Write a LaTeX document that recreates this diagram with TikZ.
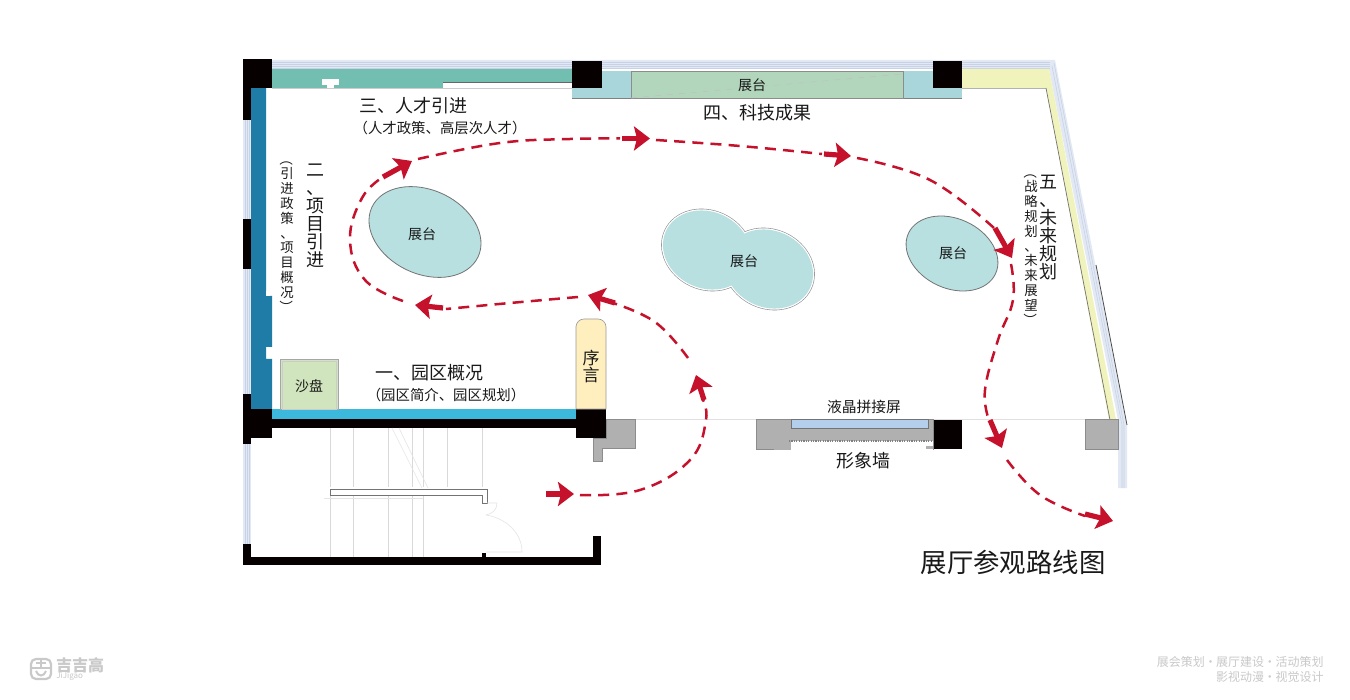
\documentclass[tikz,border=0pt]{standalone}
\usepackage{fontspec}
\setmainfont{Noto Sans CJK SC}
\usetikzlibrary{arrows.meta}
\definecolor{wallblack}{HTML}{060001}
\definecolor{tealwall}{HTML}{72BFB1}
\definecolor{bluewall}{HTML}{1F7CA6}
\definecolor{cyanwall}{HTML}{3BB8DC}
\definecolor{paleblue}{HTML}{A9D6DB}
\definecolor{palegreen}{HTML}{B2D6BC}
\definecolor{paleyellow}{HTML}{F1F3BD}
\definecolor{pool}{HTML}{B8E0E0}
\definecolor{greywall}{HTML}{B0B0B0}
\definecolor{routered}{HTML}{C5112B}
\definecolor{glass}{HTML}{E2E9F4}
\definecolor{glassline}{HTML}{C8D2E5}
\definecolor{screenblue}{HTML}{B3CFEC}
\definecolor{sand}{HTML}{D0E4BD}
\definecolor{preface}{HTML}{FFEFBE}
\definecolor{footgrey}{HTML}{C9C9C9}
\newcommand{\lp}{\rotatebox[origin=c]{-90}{（}}
\newcommand{\rp}{\rotatebox[origin=c]{-90}{）}}
\newcommand{\fsep}{\kern-1.5pt\ ·\ \kern-1.5pt}
\tikzset{
  x=0.5pt,y=-0.5pt,
  post/.style={fill=wallblack,draw=none},
  glasspane/.style={fill=glass,draw=none},
  glassrule/.style={draw=glassline,line width=0.3pt},
  stairline/.style={draw=black!15,line width=0.3pt},
  faintline/.style={draw=black!10,line width=0.3pt},
  pillar/.style={fill=greywall,draw=black!45,line width=0.25pt},
  route/.style={draw=routered,line width=1.25pt,dash pattern=on 5.5pt off 3.6pt},
  routehead/.style={draw=routered,line width=2.6pt,-{Stealth[length=8pt,width=12pt,inset=1.5pt,fill=routered]}},
  poolshape/.style={fill=pool,draw=black!55,line width=0.4pt},
  big/.style={font=\fontsize{9}{9}\selectfont,inner sep=0pt,text=black!90},
  small/.style={font=\fontsize{7.2}{7.2}\selectfont,inner sep=0pt,text=black!90},
  vsmall/.style={font=\fontsize{6.7}{7.4}\selectfont,inner sep=0pt,text=black!90},
  tag/.style={font=\fontsize{7}{7}\selectfont,inner sep=0pt,text=black!90},
  foot/.style={font=\fontsize{6}{6}\selectfont,inner sep=0pt,text=footgrey},
}
\begin{document}
\begin{tikzpicture}
\useasboundingbox (0,0) rectangle (1350,700);
\fill[white] (0,0) rectangle (1350,700);

% glazing, outer strips
\fill[glasspane] (272,60) -- (1055,60) -- (1127,425) -- (1127,488) -- (1118,488) -- (1118,420) -- (1049,69) -- (272,69) -- cycle;
\foreach \d in {62,64,66,68} \draw[glassrule] (272,\d) -- (1050,\d);
\draw[glassrule] (1052,66) -- (1122,425) -- (1122,488);
\draw[glassrule] (1054,63) -- (1124,425) -- (1124,488);
\fill[glasspane] (243,115) rectangle (251,400);
\fill[glasspane] (243,440) rectangle (251,548);
\foreach \d in {245,247,249} {
  \draw[glassrule] (\d,115) -- (\d,400);
  \draw[glassrule] (\d,440) -- (\d,548);
}
\draw[black!70,line width=0.4pt] (1096,265) -- (1127,425);

% teal top wall and its white recesses
\fill[tealwall] (272,69) rectangle (572,88);
\fill[white] (322,79) rectangle (339,85);
\fill[white] (327,85) rectangle (334,88);
\fill[white] (443,82) rectangle (572,88);
\draw[black!60,line width=0.3pt] (443,82) -- (572,82);
\draw[black!20,line width=0.3pt] (272,88.5) -- (572,88.5);

% exhibit counter on top wall
\fill[paleblue] (572,71) rectangle (962,98);
\draw[black!50,line width=0.35pt] (572,98) -- (962,98);
\fill[palegreen,draw=black!45,line width=0.3pt] (631,71) rectangle (903,98);
\draw[black!25,line width=0.25pt,dashed] (631,98) -- (903,74);

% yellow wall
\fill[paleyellow] (962,69) -- (1049,69) -- (1117,425) -- (1110,425) -- (1046,88) -- (962,88) -- cycle;
\draw[black!30,line width=0.35pt] (962,88) -- (1046,88);
\draw[black!55,line width=0.35pt] (1046,88) -- (1110,420);

% blue left wall
\fill[bluewall] (251,88) -- (266,88) -- (266,296) -- (272,296) -- (272,347) -- (266,347) -- (266,359) -- (272,359) -- (272,409) -- (251,409) -- cycle;
\fill[white] (266,291) rectangle (270,296);

% black structure
\fill[post] (243,59) rectangle (272,88);
\fill[post] (243,88) rectangle (251,120);
\fill[post] (243,219) rectangle (251,269);
\fill[post] (243,394) rectangle (251,444);
\fill[post] (243,409) rectangle (272,438);
\fill[cyanwall] (272,408.5) rectangle (576,419);
\fill[post] (272,419) rectangle (576,428);
\fill[post] (576,409) rectangle (606,438);
\fill[post] (572,61) rectangle (602,88);
\fill[post] (933,61) rectangle (962,88);
\fill[post] (933,419) rectangle (962,449);
\fill[post] (243,544) rectangle (251,565);
\fill[post] (243,557) rectangle (601,565);
\fill[post] (593,536) rectangle (601,565);
\fill[post] (482,553) rectangle (486,557);

% stairs room
\foreach \d in {330,353,388,412,423,447,482} \draw[stairline] (\d,428) -- (\d,487);
\foreach \d in {330,353,388,412,423} \draw[stairline] (\d,495) -- (\d,557);
\draw[faintline] (392,428) -- (422,488);
\draw[faintline] (399,428) -- (428,488);
\draw[black!55,line width=0.45pt] (330,489) -- (487,489) -- (487,503) -- (482,503) -- (482,495) -- (330,495) -- cycle;
\draw[faintline] (324,498) -- (423,498);
\draw[faintline] (487,503) -- (497,503) .. controls (497,510) and (492,514) .. (486,515);
\draw[faintline] (486,515) .. controls (505,518) and (522,532) .. (522,552) -- (486,552);

% pillars and front wall
\draw[black!12,line width=0.3pt] (606,419) -- (1118,419);
\fill[pillar] (606,419) -- (635,419) -- (635,448) -- (602,448) -- (602,461) -- (593,461) -- (593,438) -- (606,438) -- cycle;
\fill[pillar] (756,419) -- (933,419) -- (933,449) -- (791,449) -- (756,449) -- cycle;
\fill[white] (791,441) rectangle (933,450);
\draw[black!50,line width=0.6pt,dash pattern=on 0.6pt off 0.6pt] (789,441) -- (933,441);
\fill[screenblue,draw=black!55,line width=0.3pt] (791,419) rectangle (928,428);
\fill[greywall] (926,446) rectangle (933,449);
\fill[pillar] (1085,419) rectangle (1118,449);

% sand table and preface
\fill[sand,draw=black!35,line width=0.5pt] (280,359.5) rectangle (338,409);
\draw[black!20,line width=0.3pt] (282,361) rectangle (336,409);
\fill[preface,draw=black!40,line width=0.3pt] (576,409) -- (576,326) [rounded corners=4pt] -- (576,319) -- (606,319) [sharp corners] -- (606,409) -- cycle;

% display pools
\fill[poolshape,shift={(425,232)},rotate=-25] (0,0) ellipse (58.6 and 42);
\fill[poolshape,shift={(952,253.5)},rotate=-25] (0,0) ellipse (48 and 34.8);
\foreach \cx/\cy in {707/250,769/269} \fill[black!45,shift={(\cx,\cy)},rotate=-25] (0,0) ellipse (47 and 40);
\foreach \cx/\cy in {707/250,769/269} \fill[white,shift={(\cx,\cy)},rotate=-25] (0,0) ellipse (46.4 and 39.4);
\foreach \cx/\cy in {707/250,769/269} \fill[pool,shift={(\cx,\cy)},rotate=-25] (0,0) ellipse (45.2 and 38.2);

% visitor route
\coordinate (r1a) at (546,494);   \coordinate (r1b) at (574,494);
\coordinate (r2a) at (704,400);   \coordinate (r2b) at (696,375);
\coordinate (r3a) at (615,303);   \coordinate (r3b) at (588,295);
\coordinate (r4a) at (443,308);   \coordinate (r4b) at (415,305);
\coordinate (r5a) at (383,177);   \coordinate (r5b) at (412,161);
\coordinate (r6a) at (622,138.5); \coordinate (r6b) at (650,138.5);
\coordinate (r7a) at (824,154);   \coordinate (r7b) at (851,156);
\coordinate (r8a) at (995,228);   \coordinate (r8b) at (1012,258);
\coordinate (r9a) at (990,420);   \coordinate (r9b) at (1002,448);
\coordinate (r10a) at (1085,514); \coordinate (r10b) at (1113,521);
\draw[route] plot[smooth,tension=0.7] coordinates {(580,495) (640,490) (690,460) (706,420) (702,398)};
\draw[route] plot[smooth,tension=0.7] coordinates {(688,358) (655,322) (610,302)};
\draw[route] plot[smooth,tension=0.7] coordinates {(578,297) (510,303) (446,309)};
\draw[route] plot[smooth,tension=0.7] coordinates {(403,301) (365,280) (350,240) (362,198) (383,177)};
\draw[route] plot[smooth,tension=0.7] coordinates {(418,159) (500,143) (570,139) (620,138.5)};
\draw[route] plot[smooth,tension=0.7] coordinates {(656,140) (740,146) (822,154)};
\draw[route] plot[smooth,tension=0.7] coordinates {(857,158) (930,180) (994,228)};
\draw[route] plot[smooth,tension=0.7] coordinates {(1011,264) (1013,300) (998,340) (985,390) (989,420)};
\draw[route] plot[smooth,tension=0.7] coordinates {(1007,460) (1040,495) (1085,516)};
\foreach \n in {1,...,10} \draw[routehead] (r\n a) -- (r\n b);

% labels
\node[big] (t3) at (413,106) {三、人才引进};
\node[small] (t3s) at (440,128) {（人才政策、高层次人才）};
\node[big] (t4) at (757,113) {四、科技成果};
\node[big] (t1) at (429,373) {一、园区概况};
\node[small] (t1s) at (446,395) {（园区简介、园区规划）};
\node[big,align=center] (t2) at (315,216) {二\\、\\项\\目\\引\\进};
\node[vsmall,align=center] (t2s) at (287,233) {\lp\\引\\进\\政\\策\\、\\项\\目\\概\\况\\\rp};
\node[big,align=center] (t5) at (1048,228) {五\\、\\未\\来\\规\\划};
\node[vsmall,align=center] (t5s) at (1031,246) {\lp\\战\\略\\规\\划\\、\\未\\来\\展\\望\\\rp};
\node[tag] (sp) at (309,386) {沙盘};
\node[big,font=\fontsize{8.5}{8.5}\selectfont,align=center] (xy) at (591,366) {序\\言};
\node[tag] (z1) at (422,234) {展台};
\node[tag] (z2) at (752,85) {展台};
\node[tag] (z3) at (744,261) {展台};
\node[tag] (z4) at (953,253) {展台};
\node[tag,font=\fontsize{7.4}{7.4}\selectfont] (lcd) at (864,407) {液晶拼接屏};
\node[big] (xxq) at (863,461) {形象墙};
\node[big,font=\fontsize{13.2}{13.2}\selectfont] (title) at (1013,562) {展厅参观路线图};

% footer
\node[foot,anchor=east] (f1) at (1324,662) {展会策划\fsep 展厅建设\fsep 活动策划};
\node[foot,anchor=east] (f2) at (1324,677) {影视动漫\fsep 视觉设计};
\draw[footgrey,line width=1.1pt,rounded corners=2.5pt] (31,659) rectangle (51,679);
\draw[footgrey,line width=0.8pt] (31,668) -- (51,668) (36,663) -- (46,663) (41,659) -- (41,668);
\draw[footgrey,line width=1pt] (36,671) .. controls (38,677) and (44,677) .. (46,671);
\node[inner sep=0pt,text=footgrey,font=\fontsize{8}{8}\selectfont\bfseries] (logo) at (80,665) {吉吉高};
\node[inner sep=0pt,text=footgrey,font=\fontsize{4}{4}\selectfont,anchor=west] (logo2) at (56,676) {JiJigao};
\end{tikzpicture}
\end{document}
